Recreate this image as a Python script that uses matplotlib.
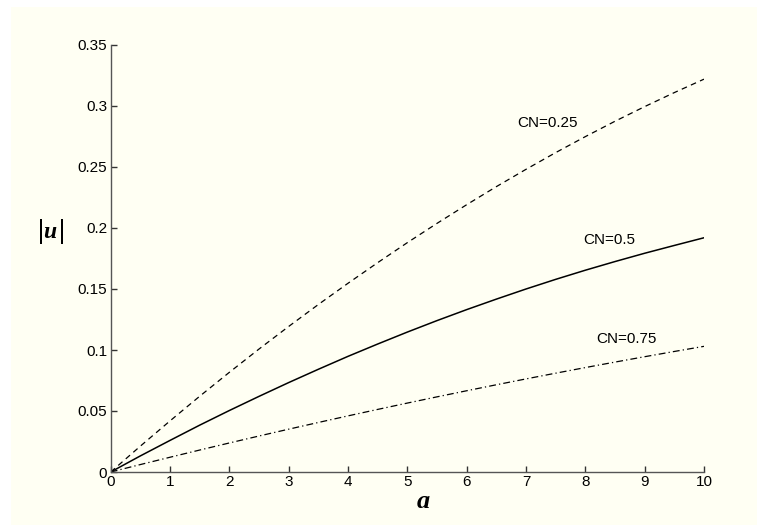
import matplotlib
matplotlib.use("Agg")
import matplotlib.pyplot as plt
from matplotlib.patches import Rectangle

a_vals = [0, 0.5, 1, 1.5, 2, 2.5, 3, 3.5, 4, 4.5, 5, 5.5, 6, 6.5, 7, 7.5, 8, 8.5, 9, 9.5, 10]
u_cn025 = [0, 0.0212, 0.0419, 0.0621, 0.0817, 0.1008, 0.1193, 0.1373, 0.1547, 0.1716, 0.1880,
           0.2038, 0.2191, 0.2339, 0.2481, 0.2618, 0.2749, 0.2875, 0.2995, 0.3110, 0.3220]
u_cn05 = [0, 0.0132, 0.0259, 0.0384, 0.0504, 0.0620, 0.0733, 0.0842, 0.0948, 0.1049, 0.1147,
          0.1241, 0.1331, 0.1417, 0.1500, 0.1579, 0.1654, 0.1725, 0.1793, 0.1857, 0.1920]
u_cn075 = [0, 0.0061, 0.0121, 0.0180, 0.0238, 0.0295, 0.0351, 0.0406, 0.0460, 0.0513, 0.0565,
           0.0616, 0.0666, 0.0715, 0.0763, 0.0810, 0.0856, 0.0901, 0.0945, 0.0988, 0.1030]
x_ticks = [0, 1, 2, 3, 4, 5, 6, 7, 8, 9, 10]
y_ticks = [0, 0.05, 0.1, 0.15, 0.2, 0.25, 0.3, 0.35]
y_tick_labels = ["0", "0.05", "0.1", "0.15", "0.2", "0.25", "0.3", "0.35"]
labels = ["CN=0.25", "CN=0.5", "CN=0.75"]
label_pos = [(6.86, 0.286), (7.96, 0.190), (8.18, 0.109)]

plt.rcParams['font.family'] = ['Liberation Sans', 'DejaVu Sans']

W, H = 757, 527
fig = plt.figure(figsize=(W / 100, H / 100), dpi=100, facecolor='white')
bg = '#FFFFF3'
fig.patches.append(Rectangle((11 / W, 2 / H), 1 - 11 / W, 1 - 9 / H,
                             transform=fig.transFigure, facecolor=bg, edgecolor='none', zorder=-10))

ax = fig.add_axes([110.7 / W, 1 - 472 / H, (704 - 110.7) / W, (472 - 45) / H])
ax.set_facecolor('none')

ax.plot(a_vals, u_cn025, color='black', lw=0.9, dashes=(4.5, 3.5))
ax.plot(a_vals, u_cn05, color='black', lw=1.1)
ax.plot(a_vals, u_cn075, color='black', lw=0.9, dashes=(5.5, 2.5, 1, 2.5))

for lab, (x, y) in zip(labels, label_pos):
    ax.text(x, y, lab, ha='left', va='center', fontsize=11)

ax.set_xlim(0, 10)
ax.set_ylim(0, 0.35)
ax.set_xticks(x_ticks)
ax.set_yticks(y_ticks)
ax.set_yticklabels(y_tick_labels)
for s in ['top', 'right']:
    ax.spines[s].set_visible(False)
for s in ['left', 'bottom']:
    ax.spines[s].set_color('#555555')
    ax.spines[s].set_linewidth(1.0)
ax.tick_params(direction='in', length=4, width=1, color='#333333', labelsize=11, pad=2.5)

fig.text(50 / W, 1 - 232 / H, r'$|$' + 'u' + r'$|$', fontsize=17, ha='center', va='center',
         family=['Liberation Serif'], fontweight='bold', style='italic')
fig.text(423 / W, 1 - 502 / H, 'a', fontsize=19, ha='center', va='center',
         family=['Liberation Serif'], fontweight='bold', style='italic')

fig.savefig('out.png', dpi=100, facecolor='white')
